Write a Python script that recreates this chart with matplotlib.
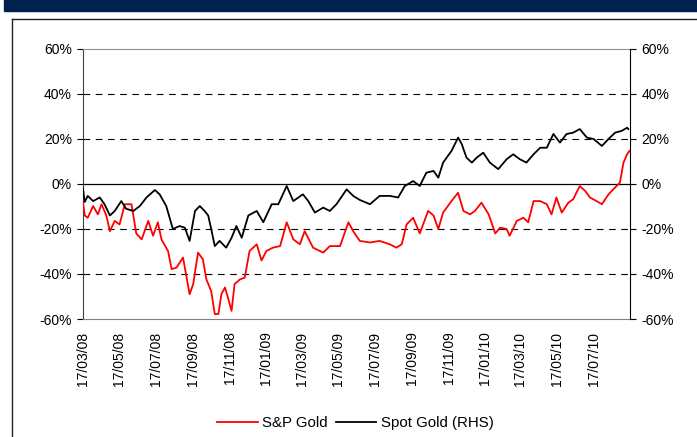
import numpy as np
import pandas as pd
import matplotlib
matplotlib.use("Agg")
import matplotlib.pyplot as plt
from matplotlib.ticker import FuncFormatter, FixedLocator
import matplotlib.dates as mdates

plt.rcParams['font.family'] = ['Liberation Sans', 'DejaVu Sans']

# start date of both series (% change)
start = pd.Timestamp('2008-03-17')

# Spot Gold (RHS) - days since start, % change
spot_days = [0, 3, 8, 17, 28, 36, 45, 53, 64, 72, 84, 95, 106, 120, 128, 139, 150, 161,
             170, 178, 187, 195, 203, 209, 214, 220, 228, 239, 248, 256, 265, 276, 290,
             301, 315, 326, 340, 351, 367, 376, 387, 401, 412, 423, 440, 451, 462, 479,
             495, 512, 526, 537, 551, 562, 573, 585, 593, 601, 615, 626, 632, 640, 649,
             657, 668, 679, 693, 707, 718, 729, 740, 752, 763, 774, 785, 796, 807, 818,
             829, 841, 852, 866, 877, 888, 899, 908, 910]
spot_gold = [-2.0, -8.0, -5.3, -7.6, -6.0, -9.0, -14.0, -12.0, -7.6, -11.0, -12.0, -9.8,
             -6.0, -2.7, -4.6, -9.8, -20.0, -18.7, -19.4, -25.3, -12.0, -9.8, -12.0, -14.0,
             -20.0, -27.6, -25.3, -28.3, -23.9, -18.7, -23.9, -14.0, -12.0, -17.0, -9.0,
             -9.0, -0.9, -7.6, -4.6, -7.6, -12.7, -10.5, -12.0, -9.0, -2.4, -5.3, -7.1,
             -9.0, -5.3, -5.3, -6.0, -0.9, 1.3, -0.9, 5.0, 5.8, 2.8, 9.5, 14.7, 20.6, 17.8,
             11.7, 9.5, 11.7, 13.9, 9.5, 6.6, 11.0, 13.2, 11.0, 9.5, 13.2, 16.1, 16.1, 22.2,
             18.4, 22.2, 22.8, 24.4, 20.6, 20.0, 16.9, 20.0, 22.8, 23.6, 25.0, 24.4]

# S&P Gold - days since start, % change
sp_days = [0, 3, 8, 17, 25, 31, 39, 45, 53, 61, 70, 81, 89, 98, 109, 117, 125, 131, 142,
           148, 156, 167, 173, 178, 184, 192, 200, 206, 214, 220, 226, 231, 237, 242, 248,
           253, 262, 270, 278, 290, 298, 306, 317, 329, 340, 351, 362, 370, 384, 401, 412,
           429, 443, 451, 462, 479, 495, 512, 523, 532, 540, 551, 562, 576, 585, 593, 601,
           615, 626, 635, 646, 654, 665, 677, 688, 696, 707, 712, 724, 735, 743, 752, 763,
           774, 782, 790, 799, 810, 818, 829, 838, 846, 857, 866, 877, 885, 896, 902, 908,
           912]
sp_gold = [-8.0, -14.0, -15.0, -9.8, -13.5, -9.0, -14.0, -21.0, -16.4, -18.0, -9.0, -9.0,
           -22.0, -24.6, -16.4, -23.0, -17.0, -24.6, -29.8, -37.8, -37.2, -32.7, -41.6,
           -49.0, -44.5, -30.5, -33.4, -42.4, -47.6, -57.8, -57.8, -49.0, -46.0, -50.5,
           -56.4, -44.5, -42.4, -41.6, -29.8, -26.8, -34.0, -29.8, -28.3, -27.6, -17.0,
           -24.6, -26.8, -21.0, -28.3, -30.5, -27.6, -27.6, -17.0, -21.0, -25.3, -26.0,
           -25.3, -26.8, -28.3, -26.8, -18.0, -15.0, -22.0, -12.0, -14.0, -20.0, -12.7,
           -7.6, -3.9, -12.0, -13.5, -12.0, -8.3, -13.5, -22.0, -19.4, -20.0, -23.0, -16.4,
           -15.0, -17.0, -7.6, -7.6, -9.0, -13.5, -6.0, -12.7, -8.3, -6.8, -0.9, -3.1, -6.0,
           -7.6, -9.0, -4.6, -2.4, 0.6, 9.5, 13.2, 14.7]

spot_dates = start + pd.to_timedelta(spot_days, unit='D')
sp_dates = start + pd.to_timedelta(sp_days, unit='D')
tick_dates = pd.date_range('2008-03-01', '2010-07-01', freq='2MS') + pd.Timedelta(days=16)
yticks = [-60, -40, -20, 0, 20, 40, 60]

fig = plt.figure(figsize=(6.97, 4.37), dpi=100)

# navy title banner and outer frame
fig.patches.append(plt.Rectangle((0.006, 0.974), 0.994, 0.026, transform=fig.transFigure,
                                 color='#00204f', zorder=0))
fig.add_artist(plt.Line2D([0.017, 0.017], [0.0, 0.957], color='#202020', lw=1.0,
                          transform=fig.transFigure))
fig.add_artist(plt.Line2D([0.017, 1.0], [0.957, 0.957], color='#202020', lw=1.0,
                          transform=fig.transFigure))

ax = fig.add_axes([0.119, 0.270, 0.785, 0.618])
ax2 = ax.twinx()

l1, = ax.plot(sp_dates, sp_gold, color='#ff0000', lw=1.3, label='S&P Gold', zorder=3)
l2, = ax2.plot(spot_dates, spot_gold, color='black', lw=1.3, label='Spot Gold (RHS)', zorder=3)

ax.set_xlim(start, start + pd.Timedelta(days=913))
for a in (ax, ax2):
    a.set_ylim(-60, 60)
    a.yaxis.set_major_locator(FixedLocator(yticks))
    a.yaxis.set_major_formatter(FuncFormatter(lambda v, p: '%d%%' % v))
    a.tick_params(axis='y', length=4, width=0.8, pad=4, labelsize=10, direction='out')

for g in (-40, -20, 20, 40):
    ax.axhline(g, color='black', lw=0.8, ls=(0, (6, 5)), zorder=1)
ax.axhline(0, color='black', lw=0.9, zorder=1)

ax.xaxis.set_major_locator(FixedLocator(mdates.date2num(tick_dates)))
ax.xaxis.set_major_formatter(mdates.DateFormatter('%d/%m/%y'))
ax.tick_params(axis='x', length=0, pad=9, labelsize=10, labelrotation=90)

ax.spines['top'].set_color('#909090')
ax.spines['bottom'].set_color('#808080')
ax.spines['left'].set_color('#404040')
ax.spines['right'].set_visible(False)
ax2.spines['right'].set_color('black')
ax2.spines['top'].set_visible(False)
ax2.spines['bottom'].set_visible(False)
ax2.spines['left'].set_visible(False)

fig.legend(handles=[l1, l2], loc='center', bbox_to_anchor=(0.51, 0.032), ncol=2,
           frameon=False, fontsize=10.8, handlelength=2.7, columnspacing=0.5,
           handletextpad=0.3)

fig.savefig('out.png', dpi=100)
